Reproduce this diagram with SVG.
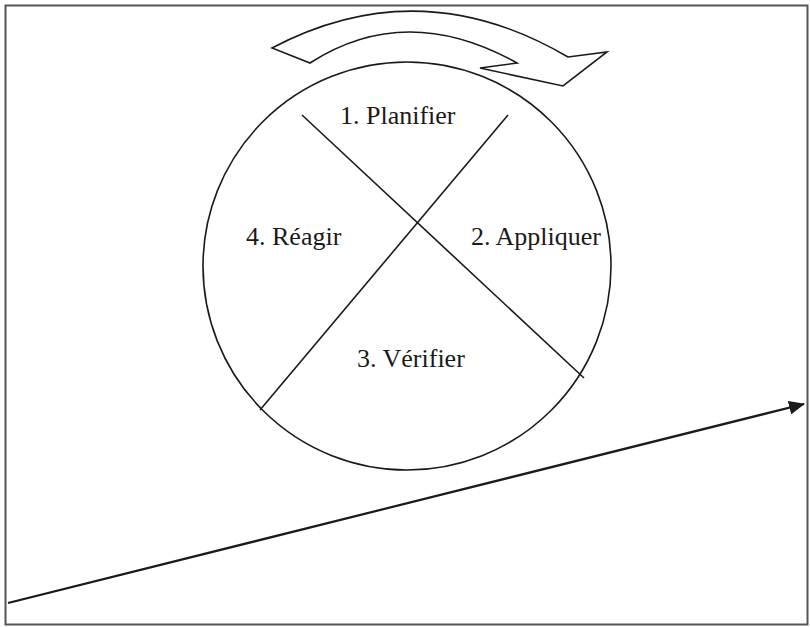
<svg xmlns="http://www.w3.org/2000/svg" width="810" height="627" viewBox="0 0 810 627">
<style>
.ln{fill:none;stroke:#1a1a1a;stroke-width:1.6}
.lbl{font-family:"Liberation Serif","Times New Roman",serif;font-size:26px;fill:#1a1a1a}
</style>
<defs>
<marker id="ah" markerWidth="16" markerHeight="14" refX="15" refY="7" orient="auto" markerUnits="userSpaceOnUse" viewBox="0 0 16 14">
<path d="M0,0 L16,7 L0,14 Z" fill="#1a1a1a"/>
</marker>
</defs>
<rect x="0" y="0" width="810" height="627" fill="#fff"/>
<rect x="5.5" y="5.5" width="802" height="619" fill="none" stroke="#555" stroke-width="2"/>
<g id="cycle-arrow">
<path class="ln" d="M272,48 Q420,-30 568,57 L607,52 L563,86 L480,68 L517,63 Q406,1 310,63 Z"/>
</g>
<g id="circle">
<circle class="ln" cx="407" cy="266" r="204"/>
</g>
<g id="connectors">
<line class="ln" x1="302" y1="115" x2="584" y2="378"/>
<line class="ln" x1="508" y1="115" x2="260" y2="410"/>
<line x1="8" y1="603" x2="804" y2="404" stroke="#1a1a1a" stroke-width="2.2" marker-end="url(#ah)"/>
</g>
<g id="n1"><text class="lbl" x="340" y="124">1. Planifier</text></g>
<g id="n2"><text class="lbl" x="471" y="245">2. Appliquer</text></g>
<g id="n3"><text class="lbl" x="357" y="367">3. Vérifier</text></g>
<g id="n4"><text class="lbl" x="246" y="245">4. Réagir</text></g>
</svg>
